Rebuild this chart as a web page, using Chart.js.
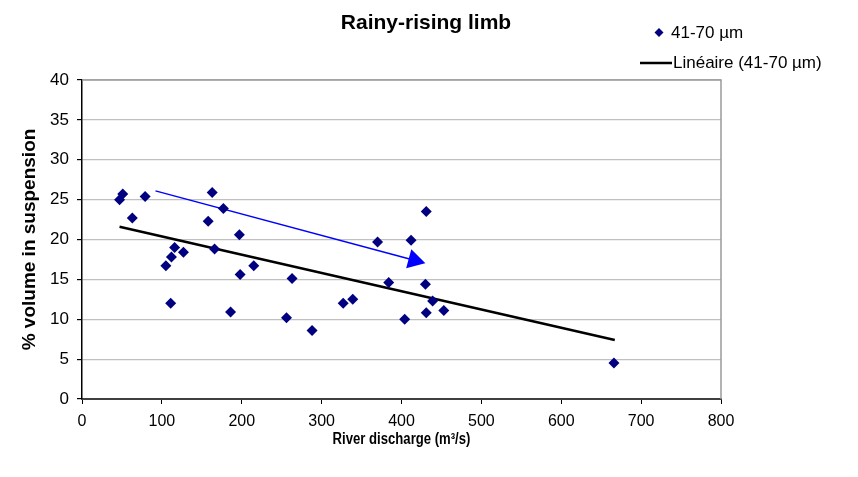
<!DOCTYPE html>
<html>
<head>
<meta charset="utf-8">
<script src="https://cdn.jsdelivr.net/npm/chart.js@4.4.0/dist/chart.umd.min.js"></script>
<style>
  html, body { margin: 0; padding: 0; background: #fff; }
  #wrap { width: 858px; height: 477px; }
</style>
</head>
<body>
<div id="wrap"><canvas id="chart" width="858" height="477"></canvas></div>
<script>
// values
const discharge = [47, 51, 63, 79, 105, 111, 112, 116, 127, 158, 163, 166, 177, 186, 197, 198, 215,
                   256, 263, 288, 327, 339, 370, 384, 404, 412, 430, 431, 431, 439, 453, 666];
const volumePct = [25.0, 25.7, 22.7, 25.4, 16.7, 12.0, 17.8, 19.0, 18.4, 22.3, 25.9, 18.8, 23.9, 10.9, 20.6, 15.6, 16.7,
                   10.2, 15.1, 8.6, 12.0, 12.5, 19.7, 14.6, 10.0, 19.9, 14.4, 23.5, 10.8, 12.3, 11.1, 4.5];

// linear trend ("Linéaire") end points
const trendX = [47, 667];
const trendY = [21.6, 7.4];

// blue arrow annotation
const arrowX = [92, 416];
const arrowY = [26.1, 17.4];

const seriesName = "41-70 µm";
const trendName = "Linéaire (41-70 µm)";
const chartTitle = "Rainy-rising limb";
const xTitle = "River discharge (m³/s)";
const yTitle = "% volume in suspension";

const FONT = "'Liberation Sans', Arial, sans-serif";

const frameAndLabels = {
  id: "frameAndLabels",
  beforeDatasetsDraw(chart) {
    const { ctx, chartArea: a } = chart;
    ctx.save();
    ctx.strokeStyle = "#9a9a9a";
    ctx.lineWidth = 1.5;
    ctx.beginPath();
    ctx.moveTo(a.left, a.top);
    ctx.lineTo(a.right, a.top);
    ctx.lineTo(a.right, a.bottom);
    ctx.stroke();
    ctx.restore();
  },
  afterDraw(chart) {
    const { ctx, chartArea: a } = chart;
    ctx.save();
    ctx.fillStyle = "#000";
    ctx.textBaseline = "middle";
    ctx.textAlign = "center";
    ctx.font = "bold 21px " + FONT;
    ctx.fillText(chartTitle, 426, 23);

    // x axis title, a bit condensed like the original
    ctx.save();
    ctx.translate((a.left + a.right) / 2, 440);
    ctx.scale(0.82, 1);
    ctx.font = "bold 16px " + FONT;
    ctx.fillText(xTitle, 0, 0);
    ctx.restore();

    // legend
    ctx.textAlign = "left";
    ctx.font = "17px " + FONT;
    ctx.fillStyle = "#000080";
    ctx.beginPath();
    ctx.moveTo(659, 28);
    ctx.lineTo(663.5, 32.5);
    ctx.lineTo(659, 37);
    ctx.lineTo(654.5, 32.5);
    ctx.closePath();
    ctx.fill();
    ctx.fillStyle = "#000";
    ctx.fillText(seriesName, 671, 33);

    ctx.strokeStyle = "#000";
    ctx.lineWidth = 2.5;
    ctx.beginPath();
    ctx.moveTo(640, 63);
    ctx.lineTo(672, 63);
    ctx.stroke();
    ctx.fillText(trendName, 673, 63);
    ctx.restore();
  }
};

new Chart(document.getElementById("chart").getContext("2d"), {
  type: "scatter",
  data: {
    datasets: [
      {
        label: seriesName,
        data: discharge.map((x, i) => ({ x: x, y: volumePct[i] })),
        pointStyle: "rectRot",
        pointRadius: 5.5,
        backgroundColor: "#000080",
        borderColor: "#000080",
        borderWidth: 0,
        order: 1
      },
      {
        label: trendName,
        type: "line",
        data: trendX.map((x, i) => ({ x: x, y: trendY[i] })),
        borderColor: "#000",
        borderWidth: 2.5,
        pointRadius: 0,
        fill: false,
        order: 2
      },
      {
        label: "arrow",
        type: "line",
        data: arrowX.map((x, i) => ({ x: x, y: arrowY[i] })),
        borderColor: "#0000ff",
        backgroundColor: "#0000ff",
        borderWidth: 1.5,
        pointStyle: "triangle",
        pointRadius: [0, 10],
        rotation: [0, 105],
        fill: false,
        order: 3
      }
    ]
  },
  options: {
    responsive: false,
    animation: false,
    layout: { padding: { top: 80, right: 137, left: 0, bottom: 0 } },
    plugins: {
      legend: { display: false },
      title: { display: false },
      tooltip: { enabled: false }
    },
    scales: {
      x: {
        type: "linear",
        min: 0,
        max: 800,
        afterFit: s => { s.height = 78; },
        ticks: { stepSize: 100, color: "#000", font: { family: FONT, size: 16 }, padding: 8 },
        grid: { drawOnChartArea: false, drawTicks: true, tickLength: 5, tickColor: "#000" },
        border: { color: "#404040", width: 2 }
      },
      y: {
        min: 0,
        max: 40,
        afterFit: s => { s.width = 82; },
        ticks: { stepSize: 5, color: "#000", font: { family: FONT, size: 17 }, padding: 8 },
        grid: { color: "#c0c0c0", lineWidth: 1.2, drawTicks: true, tickLength: 5, tickColor: "#000" },
        border: { color: "#000", width: 1.5 },
        title: { display: true, text: yTitle, color: "#000", font: { family: FONT, size: 19, weight: "bold" }, padding: { top: 18, bottom: 0 } }
      }
    }
  },
  plugins: [frameAndLabels]
});
</script>
</body>
</html>
